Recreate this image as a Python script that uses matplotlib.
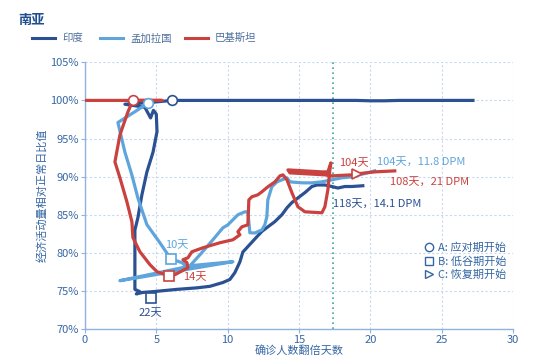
import numpy as np
import matplotlib
matplotlib.use("Agg")
import matplotlib.pyplot as plt
from matplotlib.lines import Line2D

plt.rcParams['font.family'] = ['Noto Sans CJK SC', 'DejaVu Sans']

# data: x = 确诊人数翻倍天数, y = 经济活动量 (%)
india_x = [27.2, 22.0, 21.0, 20.0, 19.0, 6.1, 4.4, 2.8, 4.2, 4.6, 4.8, 5.0, 5.05, 4.77, 4.34,
           3.99, 3.71, 3.5, 3.5, 3.85, 3.6, 4.06, 4.77, 6.45, 7.85, 8.76, 9.67, 10.16, 10.51,
           10.86, 11.07, 11.56, 12.05, 12.4, 12.82, 13.32, 13.81, 14.16, 14.51, 14.93, 15.42,
           15.91, 16.26, 16.82, 17.31, 17.73, 18.22, 18.71, 19.48]
india_y = [100.0, 100.0, 99.95, 99.95, 100.0, 100.0, 99.7, 99.5, 99.1, 97.7, 98.7, 98.2, 95.9, 93.2, 90.6,
           87.6, 84.6, 83.0, 75.2, 74.9, 74.6, 74.8, 74.9, 75.2, 75.4, 75.6, 76.1, 76.5, 77.4,
           78.8, 80.1, 81.1, 82.1, 82.8, 83.4, 84.1, 85.0, 85.9, 86.6, 87.2, 87.9,
           88.7, 88.9, 88.9, 88.7, 88.5, 88.7, 88.7, 88.8]

bgd_x = [4.42, 3.57, 2.31, 2.8, 3.29, 3.71, 4.34, 5.26, 5.82, 6.03, 6.8, 7.15, 2.45, 10.37, 7.36,
         8.06, 8.97, 9.67, 10.02, 10.72, 11.21, 11.42, 11.56, 11.91, 12.4, 12.61, 12.75, 12.82,
         13.1, 13.46, 14.16, 14.37, 15.21, 15.91, 16.61, 17.31, 18.01, 18.71, 20.32]
bgd_y = [99.67, 98.6, 97.1, 93.2, 90.2, 87.2, 83.7, 81.3, 79.74, 79.2, 78.7, 78.17, 76.34, 78.83, 78.3,
         79.74, 81.71, 83.28, 83.67, 84.99, 85.38, 85.38, 82.63, 82.6, 83.0, 83.67, 84.72, 86.95,
         88.66, 89.31, 89.84, 89.31, 89.18, 89.18, 89.31, 89.58, 89.84, 89.97, 90.75]

pak_x = [0.0, 5.4, 3.36, 3.01, 2.45, 2.10, 2.45, 2.94, 3.29, 3.36, 3.85, 4.56, 5.05, 5.61, 5.89,
         6.31, 7.22, 7.15, 6.87, 7.22, 7.5, 8.27, 9.46, 10.37, 10.86, 10.72, 11.0, 11.42, 11.49,
         11.7, 12.12, 12.4, 12.82, 13.32, 13.67, 13.88, 14.16, 14.51, 14.93, 15.42, 16.61, 16.82,
         17.03, 17.17, 17.24, 17.03, 16.61, 14.23, 14.37, 16.82, 17.31, 18.71, 19.06, 20.32, 21.72]
pak_y = [100.0, 100.0, 100.0, 98.49, 95.47, 91.93, 89.84, 86.69, 84.07, 82.0, 80.14, 78.43, 77.52, 77.13, 77.0,
         77.13, 78.04, 78.7, 79.09, 79.35, 80.14, 80.66, 81.32, 81.71, 82.36, 82.76, 83.41, 83.67, 86.95,
         87.35, 87.61, 88.0, 88.66, 89.31, 90.1, 90.23, 89.58, 87.87, 86.04, 85.38, 85.25, 86.04,
         88.27, 90.88, 91.8, 90.62, 90.62, 90.88, 90.49, 90.23, 90.1, 90.23, 90.36, 90.62, 90.75]

# phase markers (A: circle, B: square, C: triangle)
india_a = (6.1, 100.0)
bgd_a = (4.42, 99.67)
pak_a = (3.36, 100.0)
india_b = (4.6, 74.1)
bgd_b = (6.03, 79.2)
pak_b = (5.89, 77.0)
pak_c = (19.06, 90.36)
guide_x = 17.4

c_ind = '#2b5192'
c_bgd = '#5ea5dd'
c_pak = '#c9423f'
c_txt = '#3566a3'
c_axis = '#8fb3dc'

fig = plt.figure(figsize=(5.5, 3.64), dpi=100)
ax = fig.add_axes([0.1545, 0.0962, 0.778, 0.7326])

ax.plot(india_x, india_y, color=c_ind, lw=2.3, zorder=3, solid_joinstyle='round')
ax.plot(bgd_x, bgd_y, color=c_bgd, lw=2.3, zorder=4, solid_joinstyle='round')
ax.plot(pak_x, pak_y, color=c_pak, lw=2.3, zorder=5, solid_joinstyle='round')

for pt, c in [(india_a, c_ind), (bgd_a, c_bgd), (pak_a, c_pak)]:
    ax.plot(*pt, marker='o', ms=7, mfc='white', mec=c, mew=1.2, zorder=6)
for pt, c in [(india_b, c_ind), (bgd_b, c_bgd), (pak_b, c_pak)]:
    ax.plot(*pt, marker='s', ms=7.5, mfc='white', mec=c, mew=1.2, zorder=6)
ax.plot(*pak_c, marker='>', ms=7, mfc='white', mec=c_pak, mew=1.2, zorder=6)

ax.axvline(guide_x, color='#3fa59b', lw=1.2, ls=(0, (1, 2)), zorder=2)

# annotations
ax.text(4.6, 72.1, '22天', color=c_ind, fontsize=8, ha='center', va='center')
ax.text(6.45, 81.0, '10天', color=c_bgd, fontsize=8, ha='center', va='center')
ax.text(7.7, 76.8, '14天', color=c_pak, fontsize=8, ha='center', va='center')
ax.text(18.85, 91.8, '104天', color=c_pak, fontsize=8, ha='center', va='center')
ax.text(20.5, 91.8, '104天，11.8 DPM', color=c_bgd, fontsize=8, ha='left', va='center')
ax.text(21.4, 89.2, '108天，21 DPM', color=c_pak, fontsize=8, ha='left', va='center')
ax.text(17.4, 86.3, '118天，14.1 DPM', color=c_ind, fontsize=8, ha='left', va='center')

# marker legend
leg_items = [('o', 'A: 应对期开始'), ('s', 'B: 低谷期开始'), ('>', 'C: 恢复期开始')]
handles = [Line2D([], [], ls='none', marker=m, ms=6, mfc='white', mec=c_txt, mew=1.0) for m, _ in leg_items]
ax.legend(handles, [t for _, t in leg_items], loc='lower right', bbox_to_anchor=(1.0, 0.16),
          frameon=False, fontsize=8, labelcolor=c_txt, handletextpad=0.3, handlelength=1.0,
          labelspacing=0.25, borderaxespad=0.2)

ax.set_xlim(0, 30)
ax.set_ylim(70, 105)
ax.set_xticks(np.arange(0, 31, 5))
ax.set_yticks(np.arange(70, 106, 5))
ax.set_yticklabels([f'{v}%' for v in range(70, 106, 5)])
ax.grid(True, color='#c8d9ef', ls=(0, (2, 2)), lw=0.8)
ax.set_axisbelow(True)
for s in ['top', 'right']:
    ax.spines[s].set_visible(False)
for s in ['left', 'bottom']:
    ax.spines[s].set_color(c_axis)
    ax.spines[s].set_linewidth(1.0)
ax.tick_params(colors=c_axis, labelcolor=c_txt, labelsize=8, length=3, width=0.8, pad=1.5)
ax.set_xlabel('确诊人数翻倍天数', color=c_txt, fontsize=8, labelpad=0)
ax.set_ylabel('经济活动量相对正常日比值', color=c_txt, fontsize=8, labelpad=2)

# title and series legend at top
fig.text(0.033, 0.945, '南亚', color='#1f4f8f', fontsize=9.5, fontweight='bold', va='center')
top_items = [(c_ind, '印度', 0.058), (c_bgd, '孟加拉国', 0.182), (c_pak, '巴基斯坦', 0.336)]
for c, name, x0 in top_items:
    fig.add_artist(Line2D([x0, x0 + 0.042], [0.895, 0.895], color=c, lw=2.2, transform=fig.transFigure))
    fig.text(x0 + 0.055, 0.895, name, color='#4d6f9c', fontsize=7.5, va='center')

fig.savefig('out.png', dpi=100)
